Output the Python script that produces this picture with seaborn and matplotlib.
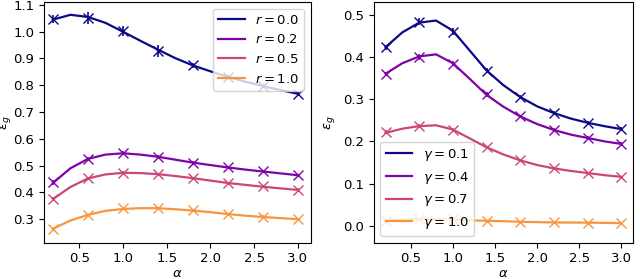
import numpy as np
import pandas as pd
import matplotlib
matplotlib.use("Agg")
import matplotlib.pyplot as plt
import seaborn as sns

# alpha grid for the simulation points and for the theory curves
alpha_pts = [0.2, 0.6, 1.0, 1.4, 1.8, 2.2, 2.6, 3.0]
alpha_line = [0.2, 0.4, 0.6, 0.8, 1.0, 1.2, 1.4, 1.6, 1.8, 2.0, 2.2, 2.4, 2.6, 2.8, 3.0]

# left panel: r values
r_labels = ["$r = 0.0$", "$r = 0.2$", "$r = 0.5$", "$r = 1.0$"]
r00_pts = [1.047, 1.051, 1.002, 0.929, 0.874, 0.831, 0.798, 0.768]
r02_pts = [0.437, 0.526, 0.547, 0.532, 0.511, 0.493, 0.478, 0.464]
r05_pts = [0.376, 0.453, 0.473, 0.467, 0.453, 0.434, 0.422, 0.410]
r10_pts = [0.263, 0.316, 0.340, 0.342, 0.333, 0.318, 0.309, 0.300]
r00_err = [0.015, 0.022, 0.018, 0.022, 0.010, 0.008, 0.008, 0.007]
r02_err = [0.008, 0.006, 0.006, 0.006, 0.005, 0.005, 0.005, 0.005]
r05_err = [0.006, 0.006, 0.005, 0.005, 0.005, 0.005, 0.005, 0.005]
r10_err = [0.005, 0.005, 0.005, 0.005, 0.005, 0.005, 0.005, 0.005]

r00_line = [1.045, 1.063, 1.055, 1.033, 1.000, 0.966, 0.933, 0.901, 0.874, 0.852, 0.831, 0.813, 0.797, 0.782, 0.768]
r02_line = [0.435, 0.490, 0.525, 0.541, 0.546, 0.541, 0.533, 0.522, 0.511, 0.502, 0.493, 0.485, 0.478, 0.471, 0.464]
r05_line = [0.375, 0.420, 0.452, 0.467, 0.473, 0.472, 0.468, 0.461, 0.453, 0.444, 0.435, 0.428, 0.421, 0.415, 0.409]
r10_line = [0.264, 0.295, 0.316, 0.331, 0.338, 0.341, 0.341, 0.337, 0.332, 0.326, 0.319, 0.313, 0.308, 0.304, 0.300]

# right panel: gamma values
g_labels = [r"$\gamma = 0.1$", r"$\gamma = 0.4$", r"$\gamma = 0.7$", r"$\gamma = 1.0$"]
g01_pts = [0.423, 0.483, 0.460, 0.367, 0.305, 0.267, 0.243, 0.229]
g04_pts = [0.360, 0.399, 0.384, 0.311, 0.259, 0.227, 0.208, 0.194]
g07_pts = [0.222, 0.236, 0.227, 0.187, 0.155, 0.136, 0.125, 0.116]
g10_pts = [0.012, 0.016, 0.016, 0.012, 0.0095, 0.008, 0.0075, 0.0065]
g01_err = [0.006, 0.008, 0.008, 0.006, 0.005, 0.004, 0.004, 0.004]
g04_err = [0.005, 0.007, 0.006, 0.005, 0.004, 0.004, 0.004, 0.004]
g07_err = [0.004, 0.004, 0.004, 0.003, 0.003, 0.003, 0.003, 0.003]
g10_err = [0.002, 0.002, 0.002, 0.002, 0.002, 0.002, 0.002, 0.002]

g01_line = [0.423, 0.458, 0.481, 0.486, 0.462, 0.415, 0.368, 0.333, 0.305, 0.283, 0.267, 0.254, 0.244, 0.236, 0.229]
g04_line = [0.360, 0.385, 0.401, 0.406, 0.385, 0.348, 0.310, 0.282, 0.259, 0.241, 0.227, 0.216, 0.208, 0.200, 0.194]
g07_line = [0.220, 0.230, 0.236, 0.238, 0.228, 0.207, 0.186, 0.169, 0.155, 0.144, 0.136, 0.130, 0.125, 0.120, 0.116]
g10_line = [0.012, 0.015, 0.016, 0.016, 0.015, 0.013, 0.012, 0.011, 0.0095, 0.0088, 0.008, 0.0078, 0.0075, 0.007, 0.0065]

colors = [plt.cm.plasma(v) for v in [0.0, 0.25, 0.5, 0.75]]

plt.rcParams['font.size'] = 9.5
plt.rcParams['mathtext.fontset'] = 'dejavusans'

fig = plt.figure(figsize=(6.4, 2.79), dpi=100)
ax1 = fig.add_axes([0.069, 0.13, 0.417, 0.863])
ax2 = fig.add_axes([0.584, 0.13, 0.405, 0.863])


def draw_panel(ax, labels, lines, pts, errs, legend_loc):
    df = pd.DataFrame({
        'alpha': alpha_line * len(labels),
        'eps': sum(lines, []),
        'label': sum([[lab] * len(alpha_line) for lab in labels], []),
    })
    sns.lineplot(data=df, x='alpha', y='eps', hue='label', palette=colors,
                 linewidth=1.6, ax=ax)
    for p, e, c in zip(pts, errs, colors):
        ax.errorbar(alpha_pts, p, yerr=e, fmt='x', color=c, markersize=7,
                    elinewidth=1.2, capsize=0, zorder=3)
    ax.legend(loc=legend_loc, fontsize=9.5)
    ax.set_xlabel(r'$\alpha$', labelpad=1)
    ax.set_ylabel(r'$\varepsilon_g$')
    ax.set_xticks([0.5, 1.0, 1.5, 2.0, 2.5, 3.0])


draw_panel(ax1, r_labels, [r00_line, r02_line, r05_line, r10_line],
           [r00_pts, r02_pts, r05_pts, r10_pts],
           [r00_err, r02_err, r05_err, r10_err], 'upper right')
ax1.set_ylim(0.212, 1.111)
ax1.set_xlim(0.1, 3.15)
ax1.yaxis.set_label_coords(-0.115, 0.5)

draw_panel(ax2, g_labels, [g01_line, g04_line, g07_line, g10_line],
           [g01_pts, g04_pts, g07_pts, g10_pts],
           [g01_err, g04_err, g07_err, g10_err], 'lower left')
ax2.set_ylim(-0.04, 0.53)
ax2.set_xlim(0.06, 3.14)

fig.savefig('out.png', dpi=100)
